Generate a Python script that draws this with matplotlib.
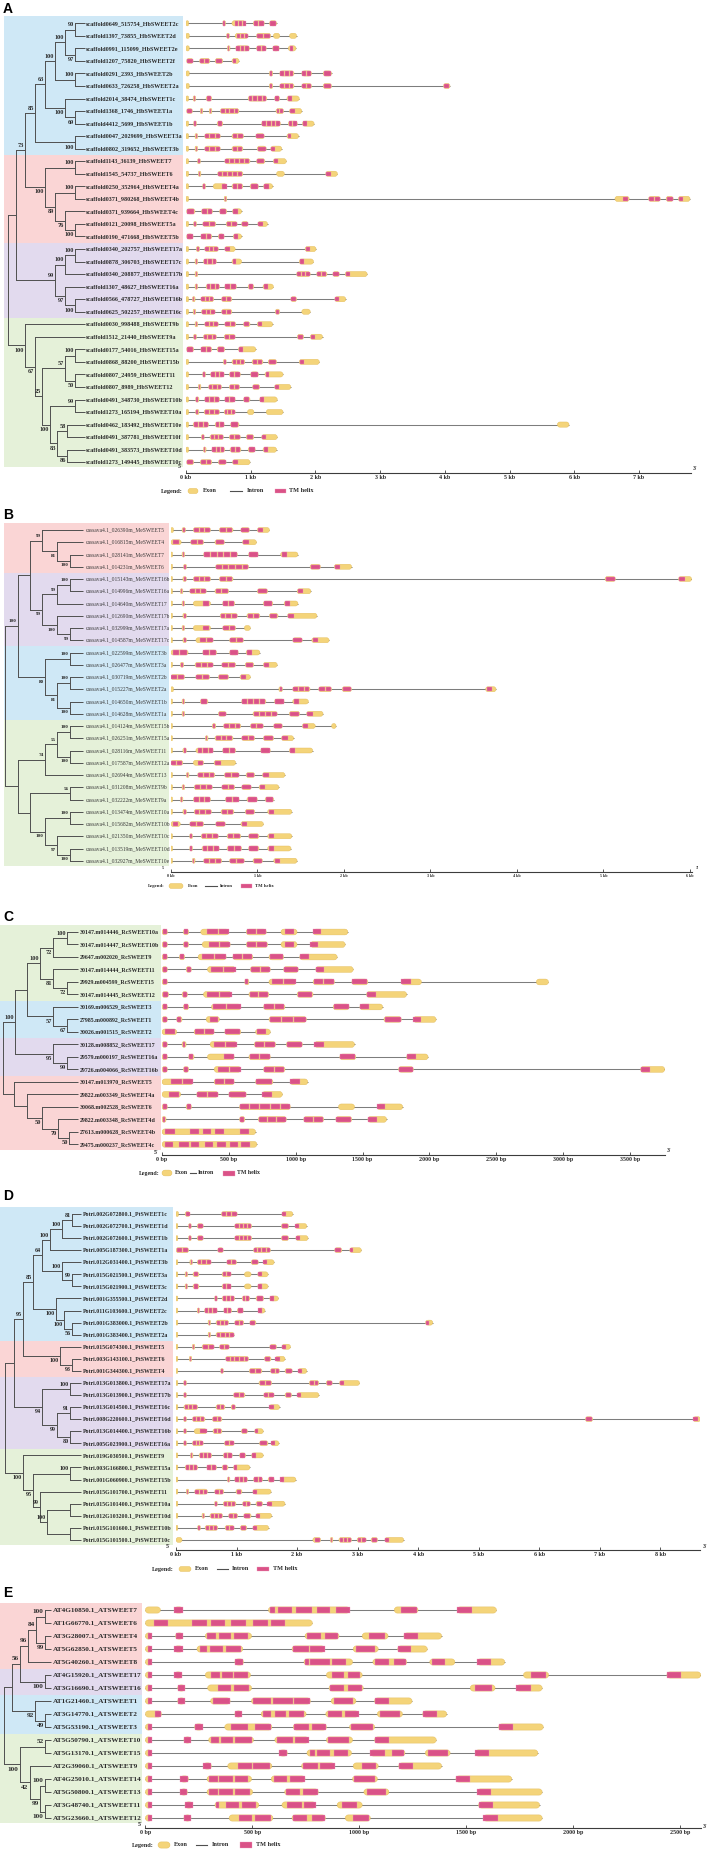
import matplotlib
matplotlib.use("Agg")
import matplotlib.pyplot as plt
from matplotlib.patches import FancyBboxPatch, Rectangle, BoxStyle

W, H = 709, 1850
SERIF = ["Liberation Serif", "DejaVu Serif"]
SANS = ["Liberation Sans", "DejaVu Sans"]
GROUP_COLORS = {"blue": "#cfe8f6", "red": "#fad5d5", "purple": "#e2daee", "green": "#e5f1d9"}
EXON_FC, EXON_EC = "#f4d47a", "#e3bb58"
TM_FC, TM_EC = "#da5287", "#ef9dbd"
INTRON, TREE, TXT = "#7d7d7d", "#4f4f4f", "#2a2a2a"

# ---------------- Panel A : Hevea brasiliensis ----------------
A_labels = ["scaffold0649_515754_HbSWEET2c", "scaffold1397_73855_HbSWEET2d", "scaffold0991_115099_HbSWEET2e",
            "scaffold1207_75820_HbSWEET2f", "scaffold0291_2393_HbSWEET2b", "scaffold0633_726258_HbSWEET2a",
            "scaffold2014_38474_HbSWEET1c", "scaffold1368_1746_HbSWEET1a", "scaffold4412_5699_HbSWEET1b",
            "scaffold0047_2029699_HbSWEET3a", "scaffold0802_319652_HbSWEET3b",
            "scaffold1143_36139_HbSWEET7", "scaffold1545_54737_HbSWEET6", "scaffold0250_352964_HbSWEET4a",
            "scaffold0371_980268_HbSWEET4b", "scaffold0371_939664_HbSWEET4c", "scaffold0121_20098_HbSWEET5a",
            "scaffold0190_471668_HbSWEET5b",
            "scaffold0340_202757_HbSWEET17a", "scaffold0878_306703_HbSWEET17c", "scaffold0340_208877_HbSWEET17b",
            "scaffold1307_48627_HbSWEET16a", "scaffold0566_478727_HbSWEET16b", "scaffold0625_502257_HbSWEET16c",
            "scaffold0030_998488_HbSWEET9b", "scaffold1512_21440_HbSWEET9a", "scaffold0177_54016_HbSWEET15a",
            "scaffold0868_88200_HbSWEET15b", "scaffold0807_24959_HbSWEET11", "scaffold0807_8989_HbSWEET12",
            "scaffold0491_348730_HbSWEET10b", "scaffold1273_165194_HbSWEET10a", "scaffold0462_183492_HbSWEET10e",
            "scaffold0491_387781_HbSWEET10f", "scaffold0491_383573_HbSWEET10d", "scaffold1273_149445_HbSWEET10c"]
A_groups = [("blue", 11), ("red", 7), ("purple", 6), ("green", 12)]
A_tree = (8, "", "t", [
    (16, "", "t", [
        (25, "73", "t", [
            (35, "85", "t", [
                (45, "63", "t", [
                    (55, "100", "t", [
                        (65, "100", "t", [(75, "90", "t", [0, 1]), (75, "97", "b", [2, 3])]),
                        (75, "100", "t", [4, 5])]),
                    (65, "100", "b", [6, (75, "69", "b", [7, 8])])]),
                (75, "100", "b", [9, 10])]),
            (45, "100", "b", [
                (75, "100", "t", [11, 12]),
                (55, "89", "b", [(75, "100", "t", [13, 14]),
                                 (65, "76", "b", [15, (75, "100", "b", [16, 17])])])])]),
        (55, "99", "t", [
            (65, "100", "t", [(75, "100", "t", [18, 19]), 20]),
            (65, "97", "b", [21, (75, "100", "b", [22, 23])])])]),
    (25, "100", "b", [24,
        (35, "67", "b", [25,
            (42, "25", "t", [
                (65, "57", "t", [(75, "100", "t", [26, 27]), (75, "50", "b", [28, 29])]),
                (50, "100", "b", [(75, "99", "t", [30, 31]),
                                  (57, "83", "b", [(67, "58", "t", [32, 33]), (67, "86", "b", [34, 35])])])])])])])
A_genes = [
    [(0, 0.04), (0.57, 0.61, 1), (0.71, 0.92, 3, 0.75, 0.92), (1.04, 1.21, 2), (1.29, 1.40, 1)],
    [(0, 0.05), (0.63, 0.67, 1), (0.76, 0.96, 3, 0.79, 0.96), (1.09, 1.31, 2), (1.35, 1.45), (1.60, 1.71)],
    [(0, 0.05), (0.64, 0.68, 1), (0.77, 0.98, 3), (1.09, 1.24, 2), (1.34, 1.44, 1), (1.58, 1.70, 1, 1.60, 1.66)],
    [(0.01, 0.11, 1), (0.21, 0.37, 2), (0.45, 0.57, 1), (0.71, 0.82, 1, 0.72, 0.78)],
    [(0, 0.05), (1.29, 1.34, 1), (1.45, 1.67, 3), (1.79, 1.94, 2), (2.12, 2.25, 1)],
    [(0, 0.05), (1.29, 1.34, 1), (1.45, 1.67, 3), (1.79, 1.94, 2), (2.12, 2.25, 1), (3.98, 4.08, 1)],
    [(0, 0.04), (0.11, 0.15, 1), (0.31, 0.40, 1), (0.96, 1.25, 4), (1.37, 1.45, 1), (1.56, 1.75, 1, 1.57, 1.64)],
    [(0.01, 0.10, 1), (0.22, 0.26, 1), (0.36, 0.40, 1), (0.53, 0.82, 4), (1.39, 1.51, 2), (1.60, 1.79, 1, 1.61, 1.68)],
    [(0, 0.04), (0.12, 0.16, 1), (0.48, 0.57, 1), (1.17, 1.46, 4), (1.58, 1.72, 2), (1.80, 1.98, 1, 1.81, 1.87)],
    [(0, 0.04), (0.14, 0.18, 1), (0.29, 0.53, 3), (0.71, 0.89, 2), (1.08, 1.21, 1), (1.56, 1.74, 1, 1.57, 1.63)],
    [(0, 0.04), (0.14, 0.18, 1), (0.29, 0.53, 3), (0.71, 0.88, 2), (1.10, 1.24, 1), (1.31, 1.48, 1, 1.32, 1.38)],
    [(0, 0.04), (0.18, 0.22, 1), (0.60, 0.99, 5), (1.09, 1.22, 1), (1.35, 1.55, 1, 1.36, 1.42)],
    [(0, 0.04), (0.19, 0.23, 1), (0.49, 0.88, 5), (1.40, 1.52), (2.16, 2.34, 1, 2.17, 2.24)],
    [(0, 0.04), (0.26, 0.30, 1), (0.42, 0.63, 1, 0.55, 0.63), (0.71, 0.88, 2), (0.99, 1.12, 1), (1.20, 1.34, 1, 1.21, 1.28)],
    [(0, 0.04), (0.59, 0.63, 1), (6.63, 6.85, 1, 6.75, 6.83), (7.15, 7.33, 2), (7.42, 7.53, 1), (7.61, 7.79, 1, 7.62, 7.68)],
    [(0.01, 0.14, 1), (0.24, 0.41, 2), (0.52, 0.63, 1), (0.72, 0.86, 1, 0.73, 0.80)],
    [(0, 0.04), (0.12, 0.16, 1), (0.26, 0.46, 2), (0.62, 0.79, 2), (0.86, 0.96, 1), (1.11, 1.26, 1, 1.12, 1.19)],
    [(0.01, 0.11, 1), (0.23, 0.40, 2), (0.50, 0.59, 1), (0.73, 0.86, 1, 0.74, 0.81)],
    [(0, 0.04), (0.16, 0.21, 1), (0.29, 0.50, 3), (0.60, 0.76, 1, 0.61, 0.68), (1.84, 2.01, 1, 1.85, 1.91)],
    [(0, 0.04), (0.14, 0.18, 1), (0.27, 0.47, 3), (0.71, 0.86, 1, 0.72, 0.78), (1.75, 1.97, 1, 1.76, 1.82)],
    [(0, 0.04), (0.14, 0.18, 1), (1.71, 1.92, 3), (2.02, 2.18, 2), (2.27, 2.37, 1), (2.46, 2.80, 1, 2.47, 2.54)],
    [(0, 0.04), (0.14, 0.18, 1), (0.31, 0.52, 3), (0.60, 0.78, 2), (0.96, 1.05, 1), (1.19, 1.35, 1, 1.20, 1.27)],
    [(0, 0.04), (0.10, 0.14, 1), (0.23, 0.43, 3), (0.55, 0.71, 2), (1.62, 1.71, 1), (2.30, 2.47, 1, 2.31, 2.37)],
    [(0, 0.04), (0.11, 0.15, 1), (0.24, 0.45, 3), (0.55, 0.71, 2), (1.38, 1.45, 1), (1.79, 1.92)],
    [(0, 0.04), (0.14, 0.18, 1), (0.29, 0.50, 3), (0.60, 0.77, 2), (0.89, 0.99, 1), (1.10, 1.34, 1, 1.11, 1.18)],
    [(0, 0.04), (0.12, 0.16, 1), (0.27, 0.47, 3), (0.59, 0.76, 2), (1.72, 1.82, 1), (1.92, 2.11, 1, 1.93, 2.00)],
    [(0.01, 0.12, 1), (0.23, 0.40, 2), (0.48, 0.60, 1), (0.81, 1.08, 1, 0.82, 0.88)],
    [(0, 0.04), (0.58, 0.62, 1), (0.71, 0.91, 3), (1.02, 1.19, 2), (1.27, 1.40, 1), (1.75, 2.06, 1, 1.76, 1.83)],
    [(0, 0.04), (0.26, 0.30, 1), (0.38, 0.59, 3), (0.67, 0.84, 2), (1.00, 1.12, 1), (1.22, 1.50, 1, 1.23, 1.29)],
    [(0, 0.04), (0.19, 0.23, 1), (0.35, 0.55, 3), (0.67, 0.83, 2), (1.03, 1.14, 1), (1.37, 1.62, 1, 1.38, 1.44)],
    [(0, 0.04), (0.15, 0.20, 1), (0.29, 0.52, 3), (0.60, 0.76, 2), (0.89, 0.99, 1), (1.14, 1.41, 1, 1.15, 1.21)],
    [(0, 0.04), (0.15, 0.20, 1), (0.28, 0.52, 3), (0.59, 0.76, 3), (0.95, 1.05), (1.24, 1.50)],
    [(0, 0.04), (0.11, 0.35, 3), (0.45, 0.59, 2), (0.69, 0.82, 1), (5.74, 5.92)],
    [(0, 0.04), (0.24, 0.28, 1), (0.37, 0.58, 3), (0.67, 0.84, 2), (0.93, 1.05, 1), (1.17, 1.41, 1, 1.18, 1.24)],
    [(0, 0.04), (0.27, 0.31, 1), (0.40, 0.60, 3), (0.68, 0.85, 2), (0.96, 1.07, 1), (1.19, 1.40, 1, 1.20, 1.26)],
    [(0.01, 0.12, 1), (0.22, 0.40, 2), (0.50, 0.62, 1), (0.72, 0.99, 1, 0.73, 0.80)],
]

# ---------------- Panel B : Manihot esculenta ----------------
B_labels = ["cassava4.1_026390m_MeSWEET5", "cassava4.1_016815m_MeSWEET4", "cassava4.1_028141m_MeSWEET7",
            "cassava4.1_014231m_MeSWEET6", "cassava4.1_015143m_MeSWEET16b", "cassava4.1_014996m_MeSWEET16a",
            "cassava4.1_014640m_MeSWEET17", "cassava4.1_012690m_MeSWEET17b", "cassava4.1_032999m_MeSWEET17a",
            "cassava4.1_014587m_MeSWEET17c", "cassava4.1_022599m_MeSWEET3b", "cassava4.1_026477m_MeSWEET3a",
            "cassava4.1_030719m_MeSWEET2b", "cassava4.1_015227m_MeSWEET2a", "cassava4.1_014650m_MeSWEET1b",
            "cassava4.1_014628m_MeSWEET1a", "cassava4.1_014124m_MeSWEET15b", "cassava4.1_026251m_MeSWEET15a",
            "cassava4.1_028116m_MeSWEET11", "cassava4.1_017587m_MeSWEET12a", "cassava4.1_026944m_MeSWEET13",
            "cassava4.1_031208m_MeSWEET9b", "cassava4.1_032222m_MeSWEET9a", "cassava4.1_013474m_MeSWEET10a",
            "cassava4.1_015682m_MeSWEET10b", "cassava4.1_021350m_MeSWEET10c", "cassava4.1_013519m_MeSWEET10d",
            "cassava4.1_032927m_MeSWEET10e"]
B_groups = [("red", 4), ("purple", 6), ("blue", 6), ("green", 12)]
B_tree = (5, "", "t", [
    (18, "100", "t", [
        (30, "", "t", [
            (42, "99", "t", [0, (57, "81", "b", [1, (70, "100", "b", [2, 3])])]),
            (42, "99", "b", [(57, "99", "t", [(70, "100", "t", [4, 5]), 6]),
                             (57, "100", "b", [7, (70, "99", "b", [8, 9])])])]),
        (45, "80", "b", [(70, "100", "t", [10, 11]),
                         (57, "81", "b", [(70, "100", "t", [12, 13]), (70, "100", "b", [14, 15])])])]),
    (18, "", "t", [
        (45, "74", "t", [(57, "55", "t", [(70, "100", "t", [16, 17]), (70, "100", "b", [18, 19])]), 20]),
        (30, "", "t", [(70, "56", "t", [21, 22]),
                       (45, "100", "b", [(70, "100", "t", [23, 24]),
                                         (57, "97", "b", [25, (70, "100", "b", [26, 27])])])])])])
B_genes = [
    [(0, 0.03), (0.13, 0.17, 1), (0.26, 0.46, 3), (0.56, 0.72, 2), (0.81, 0.91, 1), (1.00, 1.14, 1, 1.01, 1.07)],
    [(0, 0.12, 1, 0.03, 0.10), (0.23, 0.38, 2), (0.51, 0.62, 1), (0.83, 0.99, 1, 0.84, 0.90)],
    [(0, 0.02), (0.13, 0.16, 1), (0.38, 0.77, 5), (0.90, 1.01, 1), (1.27, 1.47, 1, 1.28, 1.34)],
    [(0, 0.02), (0.15, 0.18, 1), (0.52, 0.90, 5), (1.61, 1.73, 1), (1.89, 2.09, 1, 1.90, 1.96)],
    [(0, 0.02), (0.14, 0.18, 1), (0.26, 0.46, 3), (0.56, 0.72, 2), (5.02, 5.14, 1), (5.87, 6.02, 1, 5.88, 5.94)],
    [(0, 0.02), (0.11, 0.14, 1), (0.22, 0.41, 3), (0.51, 0.67, 2), (1.00, 1.12, 1), (1.46, 1.62, 1, 1.47, 1.53)],
    [(0, 0.02), (0.13, 0.16, 1), (0.26, 0.46, 1, 0.37, 0.44), (0.60, 0.74, 2), (1.07, 1.18, 1), (1.31, 1.47, 1, 1.32, 1.38)],
    [(0, 0.02), (0.14, 0.18, 1), (0.57, 0.77, 3), (0.88, 1.03, 2), (1.14, 1.24, 1), (1.35, 1.69, 1, 1.36, 1.42)],
    [(0, 0.02), (0.13, 0.16, 1), (0.26, 0.46, 1, 0.37, 0.44), (0.60, 0.75, 2), (0.85, 0.92)],
    [(0, 0.02), (0.14, 0.18, 1), (0.29, 0.49, 2, 0.34, 0.49), (0.68, 0.84, 2), (1.41, 1.52, 1), (1.63, 1.83, 1, 1.64, 1.70)],
    [(0, 0.20, 2, 0.02, 0.19), (0.37, 0.53, 2), (0.68, 0.78, 1), (0.87, 1.03, 1, 0.88, 0.94)],
    [(0, 0.02), (0.11, 0.15, 1), (0.28, 0.49, 3), (0.59, 0.75, 2), (0.86, 0.96, 1), (1.07, 1.23, 1, 1.08, 1.14)],
    [(0, 0.16, 2), (0.29, 0.45, 2), (0.55, 0.67, 1), (0.80, 0.92, 1, 0.81, 0.87)],
    [(0, 0.03), (1.25, 1.29, 1), (1.41, 1.61, 3), (1.71, 1.86, 2), (1.98, 2.09, 1), (3.64, 3.76, 1, 3.65, 3.71)],
    [(0, 0.02), (0.13, 0.16, 1), (0.34, 0.43, 1), (0.82, 1.10, 4), (1.20, 1.31, 1), (1.41, 1.59, 1, 1.42, 1.48)],
    [(0, 0.02), (0.13, 0.16, 1), (0.55, 0.64, 1), (0.95, 1.23, 4), (1.37, 1.49, 1), (1.57, 1.76, 1, 1.58, 1.64)],
    [(0, 0.02), (0.48, 0.52, 1), (0.61, 0.81, 3), (0.92, 1.07, 2), (1.19, 1.29, 1), (1.52, 1.67, 1, 1.53, 1.59), (1.86, 1.91)],
    [(0, 0.02), (0.40, 0.43, 1), (0.51, 0.72, 3), (0.82, 0.97, 2), (1.07, 1.19, 1), (1.28, 1.42, 1, 1.29, 1.35)],
    [(0, 0.02), (0.14, 0.18, 1), (0.29, 0.49, 3, 0.31, 0.49), (0.60, 0.75, 2), (1.04, 1.15, 1), (1.37, 1.64, 1, 1.38, 1.44)],
    [(0, 0.14, 2), (0.26, 0.38, 1, 0.31, 0.37), (0.50, 0.75, 1, 0.51, 0.58)],
    [(0, 0.02), (0.18, 0.21, 1), (0.31, 0.51, 3), (0.62, 0.79, 2), (0.87, 0.97, 1), (1.06, 1.32, 1, 1.07, 1.13)],
    [(0, 0.02), (0.13, 0.16, 1), (0.27, 0.48, 3), (0.59, 0.74, 2), (0.82, 0.93, 1), (1.02, 1.25, 1, 1.03, 1.09)],
    [(0, 0.02), (0.11, 0.14, 1), (0.26, 0.46, 3), (0.63, 0.79, 2), (0.88, 1.00, 1), (1.09, 1.19, 1)],
    [(0, 0.02), (0.14, 0.18, 1), (0.27, 0.47, 3), (0.58, 0.73, 2), (0.86, 0.97, 1), (1.12, 1.40, 1, 1.13, 1.19)],
    [(0, 0.11, 1, 0.02, 0.08), (0.22, 0.38, 2), (0.52, 0.63, 1), (0.81, 1.07, 1, 0.82, 0.88)],
    [(0, 0.02), (0.22, 0.25, 1), (0.35, 0.55, 3), (0.65, 0.81, 2), (0.90, 1.02, 1), (1.12, 1.40, 1, 1.13, 1.19)],
    [(0, 0.02), (0.22, 0.25, 1), (0.36, 0.56, 3), (0.65, 0.82, 2), (0.90, 1.02, 1), (1.12, 1.39, 1, 1.13, 1.19)],
    [(0, 0.02), (0.25, 0.28, 1), (0.38, 0.59, 3), (0.68, 0.85, 2), (0.95, 1.06, 1), (1.19, 1.46, 1, 1.20, 1.26)],
]

# ---------------- Panel C : Ricinus communis ----------------
C_labels = ["30147.m014446_RcSWEET10a", "30147.m014447_RcSWEET10b", "29647.m002020_RcSWEET9",
            "30147.m014444_RcSWEET11", "29929.m004599_RcSWEET15", "30147.m014445_RcSWEET12",
            "30169.m006529_RcSWEET3", "27985.m000892_RcSWEET1", "30026.m001515_RcSWEET2",
            "30128.m008852_RcSWEET17", "29579.m000197_RcSWEET16a", "29726.m004066_RcSWEET16b",
            "30147.m013970_RcSWEET5", "29822.m003349_RcSWEET4a", "30068.m002528_RcSWEET6",
            "29822.m003348_RcSWEET4d", "27613.m000628_RcSWEET4b", "29475.m000237_RcSWEET4c"]
C_groups = [("green", 6), ("blue", 3), ("purple", 3), ("red", 6)]
C_tree = (3, "", "t", [
    (15, "100", "t", [
        (27, "", "t", [
            (40, "100", "t", [(53, "72", "b", [(67, "100", "t", [0, 1]), 2]),
                              (53, "81", "b", [3, (67, "72", "b", [4, 5])])]),
            (53, "57", "b", [6, (67, "67", "b", [7, 8])])]),
        (53, "95", "b", [9, (67, "99", "b", [10, 11])])]),
    (14, "", "t", [12, (27, "", "t", [13, (42, "50", "b", [14, (58, "70", "b", [15, (69, "50", "b", [16, 17])])])])])])
C_genes = [
    [(0, 0.04, 1), (0.16, 0.20, 1), (0.29, 0.50, 2, 0.34, 0.50), (0.63, 0.78, 2), (0.89, 1.01, 1, 0.92, 0.99), (1.13, 1.39, 1, 1.13, 1.19)],
    [(0, 0.04, 1), (0.16, 0.20, 1), (0.30, 0.51, 2, 0.35, 0.51), (0.63, 0.79, 2), (0.89, 1.01, 1, 0.92, 0.99), (1.11, 1.37, 1, 1.11, 1.17)],
    [(0, 0.04, 1), (0.13, 0.17, 1), (0.27, 0.48, 2, 0.30, 0.48), (0.53, 0.68, 2), (0.80, 0.91, 1), (1.03, 1.31, 1, 1.03, 1.10)],
    [(0, 0.04, 1), (0.18, 0.22, 1), (0.34, 0.55, 2, 0.37, 0.55), (0.66, 0.81, 2), (0.91, 1.02, 1), (1.15, 1.43, 1, 1.15, 1.21)],
    [(0, 0.04, 1), (0.62, 0.65, 1), (0.80, 1.00, 2, 0.82, 1.00), (1.13, 1.29, 2), (1.42, 1.54, 1), (1.79, 1.94, 1, 1.79, 1.86), (2.80, 2.89)],
    [(0, 0.05, 1), (0.15, 0.19, 1), (0.31, 0.52, 2, 0.34, 0.52), (0.65, 0.80, 2), (1.01, 1.13, 1), (1.53, 1.83, 1, 1.53, 1.60)],
    [(0, 0.04, 1), (0.16, 0.20, 1), (0.37, 0.59, 2, 0.38, 0.59), (0.76, 0.92, 2), (1.28, 1.40, 1), (1.48, 1.65, 1, 1.48, 1.55)],
    [(0, 0.04, 1), (0.11, 0.15, 1), (0.33, 0.43, 1, 0.36, 0.42), (0.80, 1.08, 3), (1.66, 1.79, 1), (1.88, 2.05, 1, 1.88, 1.94)],
    [(0, 0.11, 1, 0.02, 0.10), (0.24, 0.39, 2), (0.47, 0.59, 1), (0.70, 0.81, 1, 0.71, 0.78)],
    [(0, 0.04, 1), (0.15, 0.18, 1), (0.36, 0.56, 2, 0.39, 0.56), (0.69, 0.85, 2), (0.93, 1.05, 1), (1.14, 1.44, 1, 1.14, 1.21)],
    [(0, 0.04, 1), (0.20, 0.24, 1), (0.34, 0.54, 1, 0.46, 0.54), (0.65, 0.81, 2), (1.33, 1.45, 1), (1.83, 1.99, 1, 1.83, 1.90)],
    [(0, 0.04, 1), (0.16, 0.20, 1), (0.39, 0.59, 2, 0.42, 0.59), (0.76, 0.92, 2), (1.77, 1.88, 1), (3.58, 3.76, 1, 3.58, 3.65)],
    [(0, 0.23, 2, 0.07, 0.23), (0.39, 0.54, 2), (0.70, 0.83, 1), (0.96, 1.09, 1, 0.96, 1.03)],
    [(0, 0.14, 1, 0.05, 0.13), (0.26, 0.42, 2), (0.50, 0.63, 1), (0.75, 0.90, 1, 0.75, 0.82)],
    [(0, 0.04, 1), (0.18, 0.22, 1), (0.58, 0.96, 5), (1.32, 1.44), (1.61, 1.80, 1, 1.61, 1.67)],
    [(0, 0.03, 1), (0.58, 0.62, 1), (0.72, 0.93, 3), (1.06, 1.21, 2), (1.30, 1.42, 1), (1.54, 1.68, 1, 1.54, 1.61)],
    [(0, 0.70, [(0.02, 0.10), (0.21, 0.28), (0.31, 0.37), (0.40, 0.46), (0.58, 0.65)])],
    [(0, 0.71, [(0.02, 0.08), (0.13, 0.20), (0.22, 0.28), (0.32, 0.38), (0.41, 0.48), (0.51, 0.57), (0.59, 0.66)])],
]

# ---------------- Panel D : Populus trichocarpa ----------------
D_labels = ["Potri.002G072800.1_PtSWEET1c", "Potri.002G072700.1_PtSWEET1d", "Potri.002G072600.1_PtSWEET1b",
            "Potri.005G187300.1_PtSWEET1a", "Potri.012G031400.1_PtSWEET3b", "Potri.015G021500.1_PtSWEET3a",
            "Potri.015G021900.1_PtSWEET3c", "Potri.001G355500.1_PtSWEET2d", "Potri.011G103600.1_PtSWEET2c",
            "Potri.001G383000.1_PtSWEET2b", "Potri.001G383400.1_PtSWEET2a", "Potri.015G074300.1_PtSWEET5",
            "Potri.003G143100.1_PtSWEET6", "Potri.001G344300.1_PtSWEET4", "Potri.013G013800.1_PtSWEET17a",
            "Potri.013G013900.1_PtSWEET17b", "Potri.013G014500.1_PtSWEET16c", "Potri.008G220600.1_PtSWEET16d",
            "Potri.013G014400.1_PtSWEET16b", "Potri.005G023900.1_PtSWEET16a", "Potri.019G030500.1_PtSWEET9",
            "Potri.003G166800.1_PtSWEET15a", "Potri.001G060900.1_PtSWEET15b", "Potri.015G101700.1_PtSWEET11",
            "Potri.015G101400.1_PtSWEET10a", "Potri.012G103200.1_PtSWEET10d", "Potri.015G101600.1_PtSWEET10b",
            "Potri.015G101500.1_PtSWEET10c"]
D_groups = [("blue", 11), ("red", 3), ("purple", 6), ("green", 8)]
D_tree = (5, "", "t", [
    (14, "", "t", [
        (23, "95", "t", [
            (33, "85", "t", [
                (42, "64", "t", [(50, "100", "t", [(62, "100", "t", [(72, "81", "t", [0, 1]), 2]), 3]),
                                 (62, "100", "t", [4, (72, "99", "t", [5, 6])])]),
                (56, "100", "b", [7, (64, "100", "b", [8, (72, "56", "b", [9, 10])])])]),
            (60, "100", "b", [11, (72, "93", "b", [12, 13])])]),
        (42, "94", "b", [(70, "100", "t", [14, 15]),
                         (57, "99", "b", [(70, "91", "t", [16, 17]), (70, "80", "b", [18, 19])])])]),
    (23, "100", "b", [20,
        (33, "95", "b", [(70, "100", "t", [21, 22]),
                         (40, "99", "t", [23, (47, "100", "t", [(70, "", "t", [24, 25]), (70, "", "t", [26, 27])])])])])])
D_genes = [
    [(0, 0.04), (0.15, 0.23, 1, 0.17, 0.23), (0.75, 1.01, 3), (1.75, 1.93, 1, 1.75, 1.82)],
    [(0, 0.03), (0.21, 0.25, 1), (0.35, 0.45, 1), (0.97, 1.25, 4), (1.74, 1.86, 1), (1.97, 2.16, 1, 1.97, 2.03)],
    [(0, 0.03), (0.21, 0.25, 1), (0.35, 0.45, 1), (0.97, 1.25, 4), (1.74, 1.86, 1), (1.98, 2.18, 1, 1.98, 2.04)],
    [(0, 0.21, 2), (0.69, 0.78, 1), (1.28, 1.56, 4), (2.62, 2.74, 1), (2.87, 3.06, 1, 2.87, 2.93)],
    [(0, 0.03), (0.23, 0.27, 1), (0.35, 0.58, 3), (0.84, 1.00, 2), (1.24, 1.36, 1), (1.44, 1.62, 1, 1.44, 1.50)],
    [(0, 0.03), (0.15, 0.19, 1), (0.28, 0.38, 1), (0.76, 0.91, 2), (1.13, 1.24), (1.35, 1.52, 1, 1.35, 1.42)],
    [(0, 0.03), (0.15, 0.19, 1), (0.28, 0.38, 1), (0.76, 0.91, 2), (1.13, 1.24), (1.35, 1.52, 1, 1.35, 1.42)],
    [(0, 0.03), (0.64, 0.68, 1), (0.76, 0.97, 3), (1.09, 1.22, 2), (1.32, 1.45, 1), (1.55, 1.69, 1, 1.55, 1.61)],
    [(0, 0.03), (0.35, 0.39, 1), (0.47, 0.68, 3), (0.79, 0.92, 2), (1.01, 1.11, 1), (1.36, 1.47, 1, 1.36, 1.42)],
    [(0, 0.03), (0.53, 0.57, 1), (0.66, 0.87, 3), (0.97, 1.12, 2), (1.22, 1.32, 1), (4.12, 4.24, 1, 4.12, 4.18)],
    [(0, 0.03), (0.53, 0.57, 1), (0.66, 0.96, 4)],
    [(0, 0.03), (0.27, 0.31, 1), (0.43, 0.63, 2, 0.45, 0.63), (0.72, 0.88, 2), (1.55, 1.66, 1), (1.75, 1.89, 1, 1.75, 1.81)],
    [(0, 0.03), (0.22, 0.26, 1), (0.82, 1.20, 5), (1.46, 1.57, 1), (1.64, 1.80, 1, 1.64, 1.71)],
    [(0, 0.03), (0.74, 0.78, 1), (1.21, 1.42, 2), (1.56, 1.71, 2), (1.80, 1.92, 1), (2.02, 2.16, 1, 2.02, 2.08)],
    [(0, 0.03), (0.13, 0.17, 1), (1.37, 1.58, 2), (2.20, 2.36, 2), (2.48, 2.58, 1), (2.70, 3.03, 1, 2.70, 2.77)],
    [(0, 0.03), (0.13, 0.17, 1), (0.95, 1.14, 2), (1.45, 1.62, 2), (1.80, 1.91, 1), (2.00, 2.36, 1, 2.00, 2.07)],
    [(0, 0.03), (0.13, 0.36, 3, 0.15, 0.34), (0.66, 0.81, 2), (0.91, 0.98, 1), (1.54, 1.71, 1, 1.54, 1.61)],
    [(0, 0.03), (0.13, 0.17, 1), (0.27, 0.48, 3), (0.60, 0.76, 2), (6.76, 6.88, 1), (8.54, 8.66, 1, 8.54, 8.62)],
    [(0, 0.03), (0.13, 0.17, 1), (0.30, 0.51, 1, 0.40, 0.51), (0.61, 0.76, 2), (1.08, 1.18, 1), (1.30, 1.44, 1, 1.30, 1.36)],
    [(0, 0.03), (0.13, 0.17, 1), (0.27, 0.45, 3), (0.80, 0.96, 2), (1.38, 1.52, 1), (1.57, 1.70, 1, 1.57, 1.64)],
    [(0, 0.03), (0.24, 0.28, 1), (0.38, 0.59, 3), (0.78, 0.93, 2), (1.05, 1.15, 1), (1.25, 1.44, 1, 1.25, 1.32)],
    [(0, 0.03), (0.15, 0.36, 3, 0.17, 0.35), (0.51, 0.67, 2), (0.76, 0.86, 1), (0.95, 1.22, 1, 0.95, 1.01)],
    [(0, 0.03), (0.85, 0.89, 1), (0.97, 1.18, 3), (1.28, 1.43, 2), (1.52, 1.62, 1), (1.72, 1.98, 1, 1.72, 1.78)],
    [(0, 0.03), (0.17, 0.21, 1), (0.31, 0.52, 3), (0.64, 0.79, 2), (0.99, 1.09, 1), (1.27, 1.57, 1, 1.27, 1.34)],
    [(0, 0.03), (0.64, 0.68, 1), (0.78, 0.99, 3), (1.10, 1.23, 2), (1.32, 1.43, 1), (1.51, 1.80, 1, 1.51, 1.58)],
    [(0, 0.03), (0.43, 0.47, 1), (0.56, 0.77, 3), (0.87, 1.02, 2), (1.12, 1.24, 1), (1.32, 1.58, 1, 1.32, 1.39)],
    [(0, 0.03), (0.36, 0.40, 1), (0.48, 0.69, 3), (0.81, 0.96, 2), (1.06, 1.17, 1), (1.27, 1.53, 1, 1.27, 1.33)],
    [(0, 0.10), (2.26, 2.39, 1, 2.30, 2.38), (2.55, 2.59, 1), (2.69, 2.90, 3), (2.99, 3.14, 2), (3.22, 3.33, 1), (3.45, 3.76, 1, 3.45, 3.52)],
]

# ---------------- Panel E : Arabidopsis thaliana (bp) ----------------
E_labels = ["AT4G10850.1_ATSWEET7", "AT1G66770.1_ATSWEET6", "AT3G28007.1_ATSWEET4", "AT5G62850.1_ATSWEET5",
            "AT5G40260.1_ATSWEET8", "AT4G15920.1_ATSWEET17", "AT3G16690.1_ATSWEET16", "AT1G21460.1_ATSWEET1",
            "AT3G14770.1_ATSWEET2", "AT5G53190.1_ATSWEET3", "AT5G50790.1_ATSWEET10", "AT5G13170.1_ATSWEET15",
            "AT2G39060.1_ATSWEET9", "AT4G25010.1_ATSWEET14", "AT5G50800.1_ATSWEET13", "AT3G48740.1_ATSWEET11",
            "AT5G23660.1_ATSWEET12"]
E_groups = [("red", 5), ("purple", 2), ("blue", 3), ("green", 7)]
E_tree = (4, "", "t", [
    (12, "", "t", [
        (20, "56", "t", [
            (28, "96", "t", [(36, "84", "t", [(45, "100", "t", [0, 1]), (45, "99", "b", [2, 3])]), 4]),
            (45, "100", "b", [5, 6])]),
        (35, "92", "b", [7, (45, "49", "b", [8, 9])])]),
    (20, "100", "b", [(45, "52", "t", [10, 11]),
                      (30, "42", "b", [12, (40, "99", "b", [(45, "100", "t", [13, 14]), (45, "100", "b", [15, 16])])])])])
E_genes = [
    [(0, 70), (135, 175, [(135, 175)]), (575, 955, [(580, 605), (620, 685), (705, 780), (800, 862), (890, 955)]),
     (1163, 1274, [(1196, 1271)]), (1457, 1640, [(1457, 1524)])],
    [(0, 780, [(38, 105), (218, 288), (305, 371), (401, 468), (505, 571), (585, 651)])],
    [(0, 30, [(10, 30)]), (141, 175, [(141, 175)]), (280, 496, [(290, 330), (345, 400), (415, 480)]),
     (746, 905, [(755, 821), (838, 901)]), (1013, 1134, [(1045, 1121)]), (1208, 1384, [(1208, 1274)])],
    [(0, 30, [(10, 30)]), (135, 175, [(135, 175)]), (241, 455, [(255, 288), (301, 363), (375, 446)]),
     (685, 838, [(688, 763), (771, 838)]), (971, 1088, [(984, 1071)]), (1179, 1317, [(1179, 1241)])],
    [(0, 30, [(10, 30)]), (418, 458, [(418, 458)]), (741, 968, [(746, 763), (768, 862), (871, 938)]),
     (1063, 1221, [(1074, 1138), (1163, 1218)]), (1329, 1446, [(1337, 1400)]), (1551, 1679, [(1551, 1617)])],
    [(0, 30, [(10, 30)]), (135, 171, [(135, 171)]), (280, 491, [(305, 350), (358, 408), (413, 480)]),
     (846, 1013, [(871, 929), (946, 1004)]), (1767, 1884, [(1801, 1871)]), (2437, 2595, [(2437, 2504)])],
    [(0, 30, [(10, 30)]), (151, 185, [(151, 185)]), (291, 496, [(341, 401), (413, 485)]),
     (858, 1018, [(863, 929), (946, 1013)]), (1518, 1634, [(1538, 1621)]), (1734, 1854, [(1734, 1801)])],
    [(0, 30, [(10, 30)]), (151, 185, [(151, 185)]), (305, 396, [(318, 396)]),
     (496, 771, [(505, 588), (596, 688), (696, 771)]), (868, 984, [(880, 971)]), (1071, 1246, [(1071, 1138)])],
    [(0, 75, [(45, 75)]), (418, 451, [(418, 451)]), (541, 751, [(551, 588), (605, 655), (671, 741)]),
     (843, 996, [(855, 921), (934, 996)]), (1084, 1201, [(1096, 1188)]), (1296, 1408, [(1296, 1363)])],
    [(0, 30, [(10, 30)]), (230, 268, [(230, 268)]), (371, 591, [(401, 480), (513, 588)]),
     (691, 846, [(696, 763), (779, 846)]), (954, 1071, [(963, 1063)]), (1651, 1859, [(1651, 1717)])],
    [(0, 30, [(10, 30)]), (180, 213, [(180, 213)]), (296, 505, [(305, 346), (355, 408), (421, 496)]),
     (605, 763, [(613, 688), (701, 763)]), (846, 968, [(855, 951)]), (1071, 1359, [(1071, 1138)])],
    [(0, 30, [(10, 30)]), (625, 663, [(625, 663)]), (755, 963, [(768, 791), (801, 863), (879, 946)]),
     (1051, 1213, [(1051, 1121), (1154, 1208)]), (1308, 1424, [(1321, 1413)]), (1541, 1834, [(1541, 1607)])],
    [(0, 30, [(10, 30)]), (271, 308, [(271, 308)]), (385, 591, [(435, 496), (505, 580)]),
     (730, 884, [(735, 805), (818, 884)]), (971, 1088, [(1013, 1079)]), (1184, 1384, [(1184, 1251)])],
    [(0, 30, [(10, 30)]), (163, 201, [(163, 201)]), (288, 496, [(296, 338), (346, 408), (418, 480)]),
     (588, 746, [(601, 663), (675, 746)]), (968, 1084, [(974, 1071)]), (1451, 1712, [(1451, 1517)])],
    [(0, 30, [(10, 30)]), (163, 196, [(163, 196)]), (288, 501, [(296, 338), (346, 408), (421, 490)]),
     (651, 808, [(658, 721), (738, 805)]), (1021, 1138, [(1034, 1124)]), (1551, 1854, [(1551, 1617)])],
    [(0, 30, [(10, 30)]), (185, 221, [(185, 221)]), (325, 530, [(330, 346), (375, 438), (451, 518)]),
     (638, 796, [(663, 730), (741, 796)]), (896, 1013, [(921, 991)]), (1557, 1842, [(1557, 1624)])],
    [(0, 30, [(10, 30)]), (180, 213, [(180, 213)]), (391, 596, [(438, 496), (513, 588)]),
     (685, 841, [(688, 755), (779, 841)]), (934, 1051, [(971, 1046)]), (1579, 1854, [(1579, 1646)])],
]

A_ticks = [0, 1, 2, 3, 4, 5, 6, 7]
B_ticks = [0, 1, 2, 3, 4, 5, 6]
C_ticks = [0, 500, 1000, 1500, 2000, 2500, 3000, 3500]
D_ticks = [0, 1, 2, 3, 4, 5, 6, 7, 8]
E_ticks = [0, 500, 1000, 1500, 2000, 2500]

# ---------------- layout (pixels) ----------------
PANELS = [
    dict(letter="A", ly=9, labels=A_labels, groups=A_groups, tree=A_tree, genes=A_genes, unit=1.0,
         row0=23.3, sp=12.54, tip=85, lab_x=86, lab_fs=4.45, lab_w="bold", lab_c=TXT, bs_fs=4.5,
         bg=(4, 183), sx0=186, ppu=64.7, xmax=7.8, axis_y=473, ticks=A_ticks, tdiv=1, tunit="kb", tfs=4.3,
         ex_h=5.2, tm_h=4.4, five=(180, 467), three=(695, 468), leg_y=491,
         leg=(183, (188, 198), 203, (230, 242), 247, (275, 286), 289), leg_fs=4.5),
    dict(letter="B", ly=515, labels=B_labels, groups=B_groups, tree=B_tree, genes=B_genes, unit=1.0,
         row0=530, sp=12.25, tip=83, lab_x=86, lab_fs=4.0, lab_w="normal", lab_c="#3a3a3a", bs_fs=3.7,
         bg=(4, 169), sx0=170.8, ppu=86.5, xmax=6.02, axis_y=872, ticks=B_ticks, tdiv=1, tunit="kb", tfs=3.0,
         ex_h=5.0, tm_h=4.2, five=(163, 868), three=(697, 868), leg_y=886,
         leg=(165, (169, 183), 188, (205, 217), 220, (241, 252), 255), leg_fs=3.4),
    dict(letter="C", ly=917, labels=C_labels, groups=C_groups, tree=C_tree, genes=C_genes, unit=1.0,
         row0=932, sp=12.49, tip=78, lab_x=80, lab_fs=4.25, lab_w="bold", lab_c=TXT, bs_fs=4.6,
         bg=(0, 160.7), sx0=162, ppu=133.7, xmax=3.76, axis_y=1155, ticks=C_ticks, tdiv=1000, tunit="bp", tfs=4.3,
         ex_h=5.8, tm_h=5.0, five=(156, 1152), three=(669, 1151), leg_y=1173,
         leg=(160, (162, 172), 175, (190, 196), 198, (223, 235), 237), leg_fs=4.2),
    dict(letter="D", ly=1196, labels=D_labels, groups=D_groups, tree=D_tree, genes=D_genes, unit=1.0,
         row0=1214, sp=12.07, tip=81, lab_x=83, lab_fs=4.25, lab_w="bold", lab_c=TXT, bs_fs=4.4,
         bg=(0, 173), sx0=176, ppu=60.56, xmax=8.66, axis_y=1550, ticks=D_ticks, tdiv=1, tunit="kb", tfs=4.3,
         ex_h=5.0, tm_h=4.2, five=(168, 1547), three=(705, 1547), leg_y=1569,
         leg=(174, (179, 191), 195, (217, 228), 232, (257, 269), 273), leg_fs=4.5),
    dict(letter="E", ly=1593, labels=E_labels, groups=E_groups, tree=E_tree, genes=E_genes, unit=1000.0,
         row0=1610, sp=13.0, tip=51, lab_x=53, lab_fs=5.2, lab_w="bold", lab_c=TXT, bs_fs=5.2,
         bg=(0, 141.7), sx0=145.4, ppu=214.0, xmax=2.595, axis_y=1828, ticks=E_ticks, tdiv=1000, tunit="bp", tfs=4.3,
         ex_h=6.2, tm_h=5.3, five=(140, 1825), three=(705, 1826), leg_y=1845,
         leg=(154, (158, 170), 174, (196, 207), 212, (240, 252), 256), leg_fs=4.5),
]

fig = plt.figure(figsize=(W / 100, H / 100), dpi=100)
base = fig.add_axes([0, 0, 1, 1])
base.set_xlim(0, W)
base.set_ylim(H, 0)
base.axis("off")


def node_y(node, rows):
    if isinstance(node, int):
        return rows[node]
    ys = [node_y(c, rows) for c in node[3]]
    return (ys[0] + ys[-1]) / 2


def draw_tree(node, rows, cfg):
    x, lab, pos, kids = node
    ys = []
    for c in kids:
        cy = node_y(c, rows)
        cx = cfg["tip"] if isinstance(c, int) else c[0]
        base.plot([x, cx], [cy, cy], color=TREE, lw=0.7, solid_capstyle="butt", zorder=3)
        ys.append(cy)
        if not isinstance(c, int):
            draw_tree(c, rows, cfg)
    base.plot([x, x], [ys[0], ys[-1]], color=TREE, lw=0.7, solid_capstyle="projecting", zorder=3)
    if lab:
        ym = (ys[0] + ys[-1]) / 2
        off = 0.38 * cfg["sp"]
        base.text(x - 1.2, ym - off if pos == "t" else ym + off, lab, ha="right", va="center",
                  fontsize=cfg["bs_fs"], fontweight="bold", family=SERIF, color=TXT, zorder=4)


def draw_gene(ax, r, exons, cfg):
    P, S, unit = cfg["ppu"], cfg["sp"], cfg["unit"]
    eh, th = cfg["ex_h"] / S, cfg["tm_h"] / S
    asp = P / S
    s0, e1 = exons[0][0] / unit, exons[-1][1] / unit
    ax.plot([s0, e1], [r, r], color=INTRON, lw=0.75, zorder=1, solid_capstyle="butt")
    for ex in exons:
        s, e = ex[0] / unit, ex[1] / unit
        w = e - s
        rr = min(0.5 * cfg["ex_h"] / P, w / 2)
        ax.add_patch(FancyBboxPatch((s, r - eh / 2), w, eh, boxstyle=BoxStyle.Round(pad=0, rounding_size=rr),
                                    mutation_aspect=asp, fc=EXON_FC, ec=EXON_EC, lw=0.3, zorder=2))
        tms = []
        if len(ex) == 3 and isinstance(ex[2], list):
            tms = [(p / unit, q / unit) for p, q in ex[2]]
        elif len(ex) >= 3 and ex[2] > 0:
            n = ex[2]
            if len(ex) == 5:
                p, q = ex[3] / unit, ex[4] / unit
            else:
                m = 0.6 / P
                p, q = s + m, e - m
            g = 1.0 / P
            tw = (q - p - (n - 1) * g) / n
            if tw <= 0:
                g, tw = 0.0, (q - p) / n
            tms = [(p + k * (tw + g), p + k * (tw + g) + tw) for k in range(n)]
        for p, q in tms:
            ax.add_patch(Rectangle((p, r - th / 2), q - p, th, fc=TM_FC, ec=TM_EC, lw=0.25, zorder=3))


for cfg in PANELS:
    n = len(cfg["labels"])
    rows = [cfg["row0"] + i * cfg["sp"] for i in range(n)]
    sp = cfg["sp"]
    base.text(3, cfg["ly"], cfg["letter"], ha="left", va="center", fontsize=10, fontweight="bold", family=SANS)
    i0 = 0
    for gi, (gname, cnt) in enumerate(cfg["groups"]):
        top = rows[0] - 0.55 * sp if gi == 0 else rows[i0] - 0.5 * sp
        bot = rows[-1] + 0.42 * sp if gi == len(cfg["groups"]) - 1 else rows[i0 + cnt - 1] + 0.5 * sp
        base.add_patch(Rectangle((cfg["bg"][0], top), cfg["bg"][1] - cfg["bg"][0], bot - top,
                                 fc=GROUP_COLORS[gname], ec="none", zorder=1))
        i0 += cnt
    draw_tree(cfg["tree"], rows, cfg)
    for y, lab in zip(rows, cfg["labels"]):
        base.text(cfg["lab_x"], y, lab, ha="left", va="center", fontsize=cfg["lab_fs"],
                  fontweight=cfg["lab_w"], family=SERIF, color=cfg["lab_c"], zorder=4)
    x0 = cfg["sx0"]
    x1 = x0 + cfg["xmax"] * cfg["ppu"]
    top = cfg["row0"] - 0.6 * sp
    bot = cfg["axis_y"]
    ax = fig.add_axes([x0 / W, 1 - bot / H, (x1 - x0) / W, (bot - top) / H])
    ax.set_facecolor("none")
    ax.set_xlim(0, cfg["xmax"])
    ax.set_ylim((bot - cfg["row0"]) / sp, -0.6)
    for side in ("top", "left", "right"):
        ax.spines[side].set_visible(False)
    ax.spines["bottom"].set_color("#3c3c3c")
    ax.spines["bottom"].set_linewidth(0.8)
    ax.set_yticks([])
    ax.set_xticks([t / cfg["tdiv"] for t in cfg["ticks"]])
    ax.set_xticklabels([f"{t} {cfg['tunit']}" for t in cfg["ticks"]], fontsize=cfg["tfs"],
                       fontweight="bold", family=SERIF, color=TXT)
    ax.tick_params(axis="x", direction="in", length=2.5, width=0.6, color="#3c3c3c", pad=1.2)
    for i, exons in enumerate(cfg["genes"]):
        draw_gene(ax, i, exons, cfg)
    base.text(cfg["five"][0], cfg["five"][1], "5'", ha="center", va="center", fontsize=cfg["tfs"],
              fontweight="bold", family=SERIF, color=TXT)
    base.text(cfg["three"][0], cfg["three"][1], "3'", ha="center", va="center", fontsize=cfg["tfs"],
              fontweight="bold", family=SERIF, color=TXT)
    lx, (ea, eb), etx, (ia, ib), itx, (ta, tb), ttx = cfg["leg"]
    ly = cfg["leg_y"]
    fs = cfg["leg_fs"]
    base.text(lx, ly, "Legend:", ha="right", va="center", fontsize=fs, fontweight="bold", family=SERIF, color=TXT)
    hh = cfg["ex_h"]
    base.add_patch(FancyBboxPatch((ea, ly - hh / 2), eb - ea, hh, boxstyle=BoxStyle.Round(pad=0, rounding_size=hh / 2),
                                  fc=EXON_FC, ec=EXON_EC, lw=0.3, zorder=3))
    base.text(etx, ly, "Exon", ha="left", va="center", fontsize=fs, fontweight="bold", family=SERIF, color=TXT)
    base.plot([ia, ib], [ly, ly], color=TREE, lw=0.8)
    base.text(itx, ly, "Intron", ha="left", va="center", fontsize=fs, fontweight="bold", family=SERIF, color=TXT)
    base.add_patch(Rectangle((ta, ly - cfg["tm_h"] / 2), tb - ta, cfg["tm_h"], fc=TM_FC, ec=TM_EC, lw=0.25, zorder=3))
    base.text(ttx, ly, "TM helix", ha="left", va="center", fontsize=fs, fontweight="bold", family=SERIF, color=TXT)

fig.savefig("out.png", dpi=100)
